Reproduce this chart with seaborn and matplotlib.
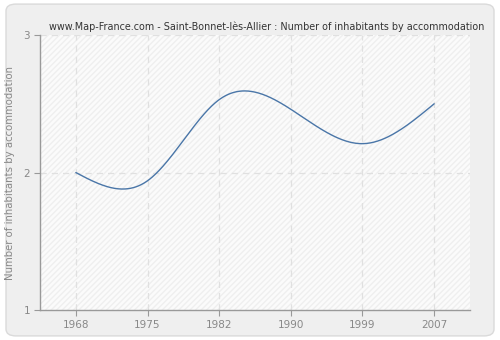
import numpy as np
import pandas as pd
import matplotlib
matplotlib.use("Agg")
import matplotlib.pyplot as plt
from matplotlib.patches import FancyBboxPatch, Rectangle
import seaborn as sns

years = ["1968", "1975", "1982", "1990", "1999", "2007"]
values = [2.0, 1.94, 2.53, 2.46, 2.21, 2.5]
y_ticks = [1, 2, 3]
title = "www.Map-France.com - Saint-Bonnet-lès-Allier : Number of inhabitants by accommodation"
ylabel = "Number of inhabitants by accommodation"

sns.set_theme(style="white")
plt.rcParams['font.family'] = ['DejaVu Sans']


def natural_spline(x, y, n=400):
    x = np.asarray(x, float); y = np.asarray(y, float)
    m = len(x); h = np.diff(x)
    A = np.zeros((m, m)); b = np.zeros(m)
    A[0, 0] = 1; A[-1, -1] = 1
    for i in range(1, m - 1):
        A[i, i - 1] = h[i - 1]; A[i, i] = 2 * (h[i - 1] + h[i]); A[i, i + 1] = h[i]
        b[i] = 3 * ((y[i + 1] - y[i]) / h[i] - (y[i] - y[i - 1]) / h[i - 1])
    c = np.linalg.solve(A, b)
    xs = np.linspace(x[0], x[-1], n); ys = np.empty_like(xs)
    for k, xv in enumerate(xs):
        i = min(np.searchsorted(x, xv, side='right') - 1, m - 2)
        dx = xv - x[i]
        bb = (y[i + 1] - y[i]) / h[i] - h[i] * (2 * c[i] + c[i + 1]) / 3
        d = (c[i + 1] - c[i]) / (3 * h[i])
        ys[k] = y[i] + bb * dx + c[i] * dx ** 2 + d * dx ** 3
    return xs, ys


idx = np.arange(len(years))
xs, ys = natural_spline(idx, values)
curve = pd.DataFrame({"x": xs, "y": ys})

fig = plt.figure(figsize=(5, 3.4), dpi=100)
fig.patch.set_facecolor("white")
bg = FancyBboxPatch((0.012, 0.012), 0.976, 0.976, boxstyle="round,pad=0,rounding_size=0.02",
                    transform=fig.transFigure, facecolor="#efefef", edgecolor="#dadada",
                    linewidth=1, zorder=-10)
fig.patches.append(bg)

ax = fig.add_axes([0.08, 0.088, 0.86, 0.809])
ax.set_zorder(1)
ax.set_facecolor("#fbfbfb")
ax.add_patch(Rectangle((-0.5, 1), 6, 2, facecolor="none", edgecolor="#efefef", hatch="//////",
                       linewidth=0, zorder=0))

sns.lineplot(data=curve, x="x", y="y", ax=ax, color="#4a76a8", linewidth=1.0, zorder=3)

ax.set_xlim(-0.5, 5.5)
ax.set_ylim(1, 3)
ax.set_xticks(idx)
ax.set_xticklabels(years)
ax.set_yticks(y_ticks)
ax.set_yticklabels([str(v) for v in y_ticks])
for xv in idx:
    ax.axvline(xv, color="#e0e0e0", linestyle=(0, (5, 4)), linewidth=0.9, zorder=1)
ax.axhline(2, color="#e0e0e0", linestyle=(0, (5, 4)), linewidth=0.9, zorder=1)
ax.axhline(3, color="#e0e0e0", linestyle=(0, (5, 4)), linewidth=0.9, zorder=1)

for s in ["top", "right"]:
    ax.spines[s].set_visible(False)
for s in ["left", "bottom"]:
    ax.spines[s].set_color("#999999")
    ax.spines[s].set_linewidth(1)
ax.tick_params(axis="both", direction="out", length=4, width=0.8, color="#999999",
               labelcolor="#888888", labelsize=7.5, bottom=True, left=True, pad=3)
ax.set_xlabel("")
ax.set_ylabel(ylabel, color="#888888", fontsize=7.3, labelpad=6)
fig.text(0.534, 0.905, title, ha="center", va="bottom", fontsize=6.9, color="#333333")

fig.savefig("out.png", dpi=100, facecolor=fig.get_facecolor())
